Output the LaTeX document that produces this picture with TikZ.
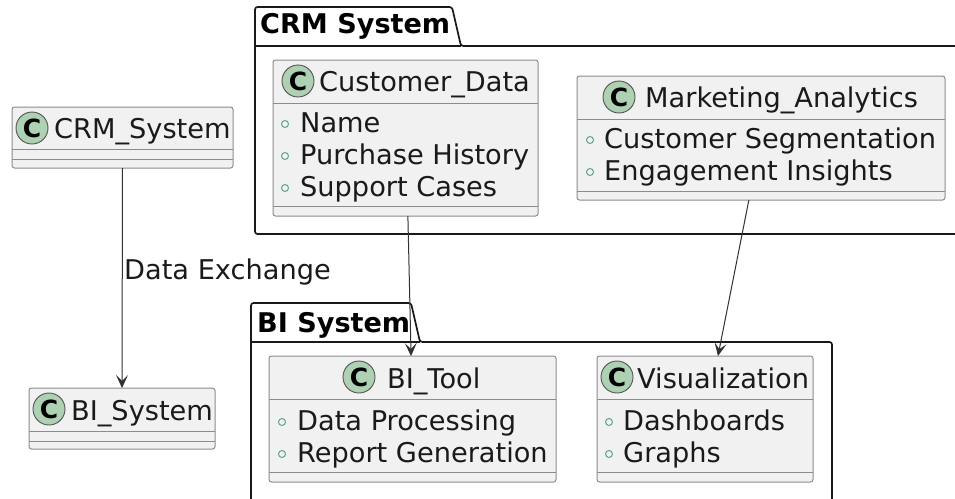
\documentclass[tikz,border=0pt]{standalone}
\usepackage{fontspec}
\setmainfont{DejaVu Sans}
\usetikzlibrary{arrows.meta,calc}
\definecolor{boxfill}{HTML}{F1F1F1}
\definecolor{boxline}{HTML}{8C8C8C}
\definecolor{spotfill}{HTML}{ADD1B2}
\definecolor{inkc}{HTML}{1A1A1A}
\definecolor{bullet}{HTML}{5FA58C}
\tikzset{
  classbox/.style={draw=boxline,fill=boxfill,line width=1pt,rounded corners=2.5pt,inner sep=0pt,outer sep=0pt},
  divider/.style={draw=boxline,line width=1pt},
  pkg/.style={draw=inkc,line width=1.7pt,fill=white,rounded corners=2.5pt},
  spot/.style={circle,draw=inkc!75,fill=spotfill,line width=.9pt,minimum size=32pt,inner sep=0pt,font=\fontsize{25}{25}\selectfont\bfseries,text=black},
  lbl/.style={anchor=base west,inner sep=0pt,font=\fontsize{27.2}{30}\selectfont,text=inkc},
  pkglbl/.style={anchor=base west,inner sep=0pt,font=\fontsize{27.1}{30}\selectfont\bfseries,text=black},
  dot/.style={circle,draw=bullet,line width=1pt,minimum size=7pt,inner sep=0pt},
  conn/.style={draw=inkc!90,line width=1pt,-{Stealth[length=13pt,width=12pt,inset=6pt]}},
}
\newcommand{\classrect}[5]{% name, x1, y1, x2, y2
  \node[classbox,minimum width=#4pt-#2pt,minimum height=#5pt-#3pt] (#1) at ({(#2+#4)/2},{(#3+#5)/2}) {};
}
\begin{document}
\begin{tikzpicture}[x=1pt,y=-1pt]
\useasboundingbox (0,0) rectangle (955,498);
\fill[white] (0,0) rectangle (955,498);
% packages
\draw[pkg] (956,46) -- (461,46) -- (452,7) -- (255,7) -- (255,234) -- (956,234);
\draw[draw=inkc,line width=1.7pt] (255,46) -- (461,46);
\draw[pkg] (251,500) -- (251,303) -- (411,303) -- (420,342) -- (832,342) -- (832,500);
\draw[draw=inkc,line width=1.7pt] (251,342) -- (420,342);
\node[pkglbl] (pcrm) at (260,33) {CRM System};
\node[pkglbl] (pbi) at (257,332) {BI System};
% classes
\classrect{crm}{12}{107}{233}{168}
\draw[divider] (12,149) -- (233,149) (12,159) -- (233,159);
\node[spot] (crmc) at (32,128) {C};
\node[lbl] (crmt) at (54,138) {CRM\_System};

\classrect{bis}{29}{388}{215}{449}
\draw[divider] (29,431) -- (215,431) (29,441) -- (215,441);
\node[spot] (bisc) at (49,409) {C};
\node[lbl] (bist) at (71,420) {BI\_System};

\classrect{cd}{273}{60}{538}{216}
\draw[divider] (273,103) -- (538,103) (273,206) -- (538,206);
\node[spot] (cdc) at (298,81) {C};
\node[lbl] (cdt) at (319,91) {Customer\_Data};
\node[dot] (cd1) at (285,124) {};
\node[lbl] (cdn) at (300,132) {Name};
\node[dot] (cd2) at (285,156) {};
\node[lbl] (cdp) at (300,164) {Purchase History};
\node[dot] (cd3) at (285,188) {};
\node[lbl] (cds) at (300,196) {Support Cases};

\classrect{ma}{577}{76}{945}{200}
\draw[divider] (577,119) -- (945,119) (577,191) -- (945,191);
\node[spot] (mac) at (619,97) {C};
\node[lbl] (mat) at (645,107) {Marketing\_Analytics};
\node[dot] (ma1) at (590,140) {};
\node[lbl] (mas) at (604,148) {Customer Segmentation};
\node[dot] (ma2) at (590,172) {};
\node[lbl] (mae) at (604,180) {Engagement Insights};

\classrect{bt}{269}{356}{556}{482}
\draw[divider] (269,399) -- (556,399) (269,472) -- (556,472);
\node[spot] (btc) at (359,377) {C};
\node[lbl] (btt) at (387,388) {BI\_Tool};
\node[dot] (bt1) at (282,422) {};
\node[lbl] (btd) at (297,430) {Data Processing};
\node[dot] (bt2) at (282,454) {};
\node[lbl] (btr) at (297,462) {Report Generation};

\classrect{vi}{597}{356}{813}{482}
\draw[divider] (597,399) -- (813,399) (597,472) -- (813,472);
\node[spot] (vic) at (617,377) {C};
\node[lbl] (vit) at (637,388) {Visualization};
\node[dot] (vi1) at (609,422) {};
\node[lbl] (vid) at (623,430) {Dashboards};
\node[dot] (vi2) at (609,454) {};
\node[lbl] (vig) at (623,462) {Graphs};
% connectors
\draw[conn] (crm.south) -- (bis.north);
\node[lbl] (dx) at (124,279) {Data Exchange};
\draw[conn] ($(cd.south west)!0.509!(cd.south east)$) -- ($(bt.north west)!0.495!(bt.north east)$);
\draw[conn] ($(ma.south west)!0.467!(ma.south east)$) -- ($(vi.north west)!0.56!(vi.north east)$);
\end{tikzpicture}
\end{document}
